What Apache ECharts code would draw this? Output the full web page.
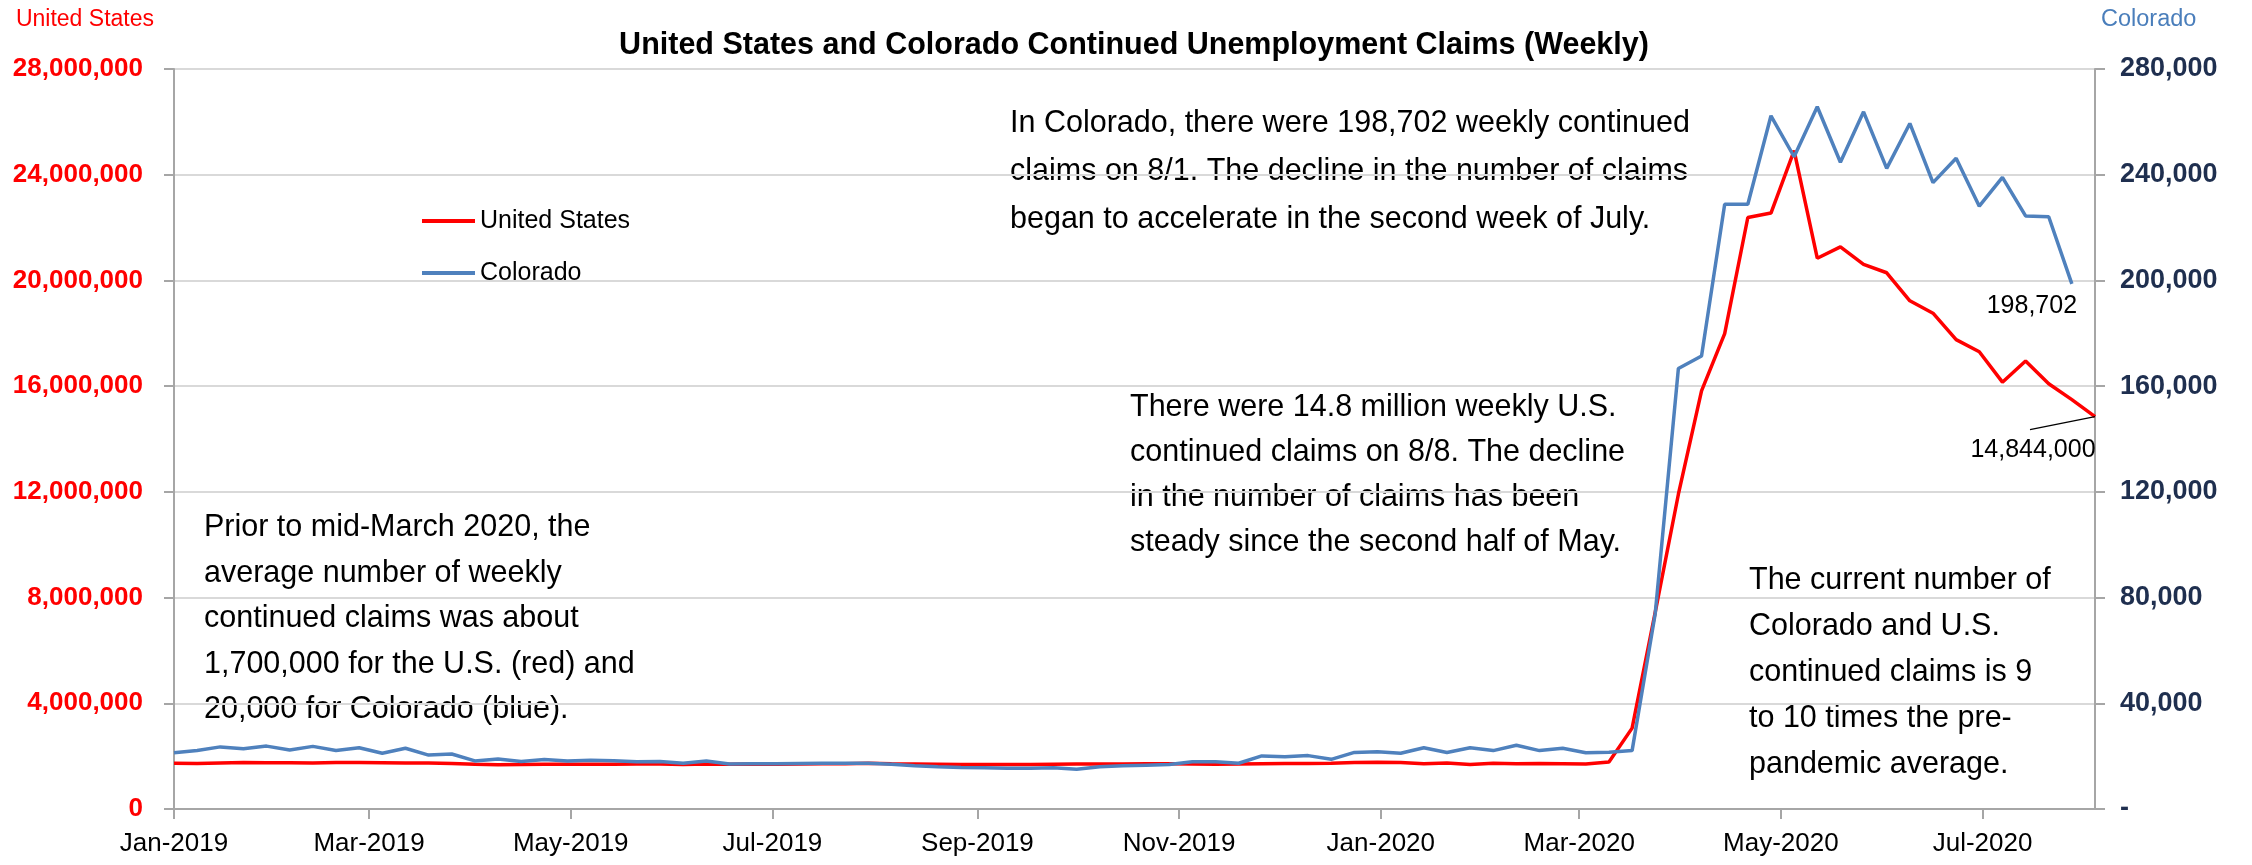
<!DOCTYPE html>
<html>
<head>
<meta charset="utf-8">
<title>United States and Colorado Continued Unemployment Claims (Weekly)</title>
<script src="https://cdn.jsdelivr.net/npm/echarts@6/dist/echarts.min.js"></script>
<style>
  html, body { margin: 0; padding: 0; background: #fff; }
  #main { width: 2252px; height: 865px; }
</style>
</head>
<body>
<div id="main"></div>
<script>
// weeks ending Saturday, first week 1/5/2019
var firstWeek = [2019, 0, 5];

// U.S. continued claims, weekly, 1/5/2019 - 8/8/2020
var usClaims = [
  1730000, 1720000, 1740000, 1760000, 1750000, 1750000, 1740000, 1760000, 1760000, 1750000,
  1740000, 1740000, 1720000, 1690000, 1670000, 1680000, 1690000, 1690000, 1690000, 1690000,
  1700000, 1700000, 1680000, 1700000, 1690000, 1700000, 1690000, 1700000, 1710000, 1710000,
  1730000, 1710000, 1700000, 1690000, 1680000, 1680000, 1680000, 1680000, 1690000, 1700000,
  1700000, 1700000, 1710000, 1710000, 1700000, 1690000, 1700000, 1710000, 1720000, 1720000,
  1730000, 1760000, 1770000, 1760000, 1710000, 1740000, 1680000, 1730000, 1710000, 1720000,
  1710000, 1700000, 1780000, 3060000, 7450000, 11910000, 15820000, 17990000, 22380000, 22550000,
  24910000, 20840000, 21270000, 20610000, 20290000, 19230000, 18760000, 17760000, 17300000, 16150000,
  16950000, 16090000, 15490000, 14844000
];

// Colorado continued claims, weekly, 1/5/2019 - 8/1/2020 (one week shorter)
var coClaims = [
  21300, 22100, 23500, 22800, 23800, 22300, 23700, 22100, 23200, 21100,
  23000, 20400, 20800, 18200, 18900, 18000, 18700, 18200, 18400, 18300,
  17900, 18000, 17300, 18200, 17000, 17100, 17100, 17200, 17300, 17300,
  17300, 16900, 16400, 16000, 15700, 15600, 15400, 15400, 15600, 15000,
  16000, 16400, 16600, 16800, 17900, 17900, 17300, 20100, 19800, 20200,
  18800, 21400, 21700, 21100, 23200, 21400, 23200, 22100, 24100, 22100,
  23000, 21300, 21500, 22100, 74000, 166700, 171400, 228800, 228800, 262300,
  246800, 265700, 244700, 263800, 242400, 259400, 237000, 246200, 228100, 239000,
  224400, 224100, 198702
];

// x axis tick dates (every two months from the first week)
var xTickDates = [
  '2019-01-05', '2019-03-05', '2019-05-05', '2019-07-05', '2019-09-05',
  '2019-11-05', '2020-01-05', '2020-03-05', '2020-05-05', '2020-07-05'
];
var monthNames = ['Jan', 'Feb', 'Mar', 'Apr', 'May', 'Jun', 'Jul', 'Aug', 'Sep', 'Oct', 'Nov', 'Dec'];

var leftTickLabels = ['0', '4,000,000', '8,000,000', '12,000,000', '16,000,000', '20,000,000', '24,000,000', '28,000,000'];
var rightTickLabels = ['-', '40,000', '80,000', '120,000', '160,000', '200,000', '240,000', '280,000'];

var notes = [
  ['In Colorado, there were 198,702 weekly continued', 'claims on 8/1. The decline in the number of claims', 'began to accelerate in the second week of July.'],
  ['There were 14.8 million weekly U.S.', 'continued claims on 8/8. The decline', 'in the number of claims has been', 'steady since the second half of May.'],
  ['Prior to mid-March 2020, the', 'average number of weekly', 'continued claims was about', '1,700,000 for the U.S. (red) and', '20,000 for Colorado (blue).'],
  ['The current number of', 'Colorado and U.S.', 'continued claims is 9', 'to 10 times the pre-', 'pandemic average.']
];

var FONT = '"Liberation Sans", Arial, sans-serif';

function parseDay(s) {
  var p = s.split('-');
  return new Date(+p[0], +p[1] - 1, +p[2]).getTime();
}

var weekDates = [];
for (var i = 0; i < usClaims.length; i++) {
  weekDates.push(new Date(firstWeek[0], firstWeek[1], firstWeek[2] + 7 * i).getTime());
}
var xTicks = xTickDates.map(parseDay);

var usData = usClaims.map(function (v, i) { return [weekDates[i], v]; });
var coData = coClaims.map(function (v, i) { return [weekDates[i], v]; });
var usLast = usData[usData.length - 1];

// value labels on the last points
function lastLabel(offset) {
  return {
    show: true,
    position: 'bottom',
    offset: offset,
    fontFamily: FONT,
    fontSize: 25,
    color: '#000',
    formatter: function (p) { return p.value[1].toLocaleString('en-US'); }
  };
}
usData[usData.length - 1] = { value: usLast, label: lastLabel([-62, 16]) };
coData[coData.length - 1] = { value: coData[coData.length - 1], label: lastLabel([-40, 5]) };

var noteStyle = { fontFamily: FONT, fontSize: 30.5, fill: '#000' };
var graphics = [
  { id: 'n1', type: 'text', left: 1010, top: 100, style: echarts.util.extend({ text: notes[0].join('\n'), lineHeight: 48 }, noteStyle) },
  { id: 'n2', type: 'text', left: 1130, top: 385, style: echarts.util.extend({ text: notes[1].join('\n'), lineHeight: 45 }, noteStyle) },
  { id: 'n3', type: 'text', left: 204, top: 505, style: echarts.util.extend({ text: notes[2].join('\n'), lineHeight: 45.5 }, noteStyle) },
  { id: 'n4', type: 'text', left: 1749, top: 558, style: echarts.util.extend({ text: notes[3].join('\n'), lineHeight: 46 }, noteStyle) }
];

var myChart = echarts.init(document.getElementById('main'));

var option = {
  animation: false,
  backgroundColor: '#fff',
  title: {
    text: 'United States and Colorado Continued Unemployment Claims (Weekly)',
    left: 1129,
    top: 25,
    textAlign: 'center',
    textStyle: { fontFamily: FONT, fontSize: 30.5, fontWeight: 'bold', color: '#000' }
  },
  legend: {
    orient: 'vertical',
    left: 417,
    top: 200,
    icon: 'rect',
    itemWidth: 53,
    itemHeight: 4,
    itemGap: 20,
    textStyle: { fontFamily: FONT, fontSize: 25, color: '#000', lineHeight: 32 },
    data: ['United States', 'Colorado']
  },
  grid: {
    left: 174,
    right: 157,
    top: 69,
    bottom: 56,
    outerBoundsMode: 'none'
  },
  // dates kept as timestamps on a value axis so the ticks can sit on the chosen days
  xAxis: {
    type: 'value',
    min: weekDates[0],
    max: weekDates[weekDates.length - 1],
    axisLine: { onZero: false, lineStyle: { color: '#a6a6a6', width: 2 } },
    axisTick: { show: true, length: 10, customValues: xTicks, lineStyle: { color: '#a6a6a6', width: 2 } },
    axisLabel: {
      customValues: xTicks,
      margin: 22,
      fontFamily: FONT,
      fontSize: 26,
      color: '#000',
      formatter: function (v) {
        var d = new Date(v);
        return monthNames[d.getMonth()] + '-' + d.getFullYear();
      }
    },
    splitLine: { show: false }
  },
  yAxis: [{
    type: 'value',
    position: 'left',
    min: 0,
    max: 28000000,
    interval: 4000000,
    name: 'United States',
    nameLocation: 'end',
    nameGap: 49,
    nameTextStyle: {
      fontFamily: FONT, fontSize: 23, color: '#ff0000',
      align: 'right', verticalAlign: 'middle', padding: [0, 20, 0, 0]
    },
    axisLine: { show: true, lineStyle: { color: '#a6a6a6', width: 2 } },
    axisTick: { show: true, length: 10, lineStyle: { color: '#a6a6a6', width: 2 } },
    axisLabel: {
      margin: 31,
      fontFamily: FONT, fontSize: 26, fontWeight: 'bold', color: '#ff0000',
      formatter: function (v) { return leftTickLabels[Math.round(v / 4000000)]; }
    },
    splitLine: { show: true, lineStyle: { color: '#d9d9d9', width: 2 } }
  }, {
    type: 'value',
    position: 'right',
    min: 0,
    max: 280000,
    interval: 40000,
    name: 'Colorado',
    nameLocation: 'end',
    nameGap: 49,
    nameTextStyle: {
      fontFamily: FONT, fontSize: 23.5, color: '#4a7ebb',
      align: 'left', verticalAlign: 'middle', padding: [0, 0, 0, 6]
    },
    axisLine: { show: true, lineStyle: { color: '#a6a6a6', width: 2 } },
    axisTick: { show: true, length: 10, lineStyle: { color: '#a6a6a6', width: 2 } },
    axisLabel: {
      margin: 25,
      fontFamily: FONT, fontSize: 27, fontWeight: 'bold', color: '#1f2f4f',
      formatter: function (v) { return rightTickLabels[Math.round(v / 40000)]; }
    },
    splitLine: { show: false }
  }],
  series: [{
    name: 'United States',
    type: 'line',
    yAxisIndex: 0,
    data: usData,
    symbol: 'circle',
    symbolSize: 0,
    showSymbol: true,
    itemStyle: { color: '#ff0000' },
    lineStyle: { color: '#ff0000', width: 3.5 },
    emphasis: { disabled: true }
  }, {
    name: 'Colorado',
    type: 'line',
    yAxisIndex: 1,
    data: coData,
    symbol: 'circle',
    symbolSize: 0,
    showSymbol: true,
    itemStyle: { color: '#4f81bd' },
    lineStyle: { color: '#4f81bd', width: 3.5 },
    emphasis: { disabled: true }
  }],
  graphic: graphics
};

myChart.setOption(option);

// leader line from the last U.S. point down to its label
var pt = myChart.convertToPixel({ xAxisIndex: 0, yAxisIndex: 0 }, usLast);
graphics.push({
  id: 'leader',
  type: 'line',
  shape: { x1: pt[0], y1: pt[1], x2: pt[0] - 65, y2: pt[1] + 13 },
  style: { stroke: '#000', lineWidth: 1.2 },
  z: 10
});
myChart.setOption({ graphic: graphics });
</script>
</body>
</html>
